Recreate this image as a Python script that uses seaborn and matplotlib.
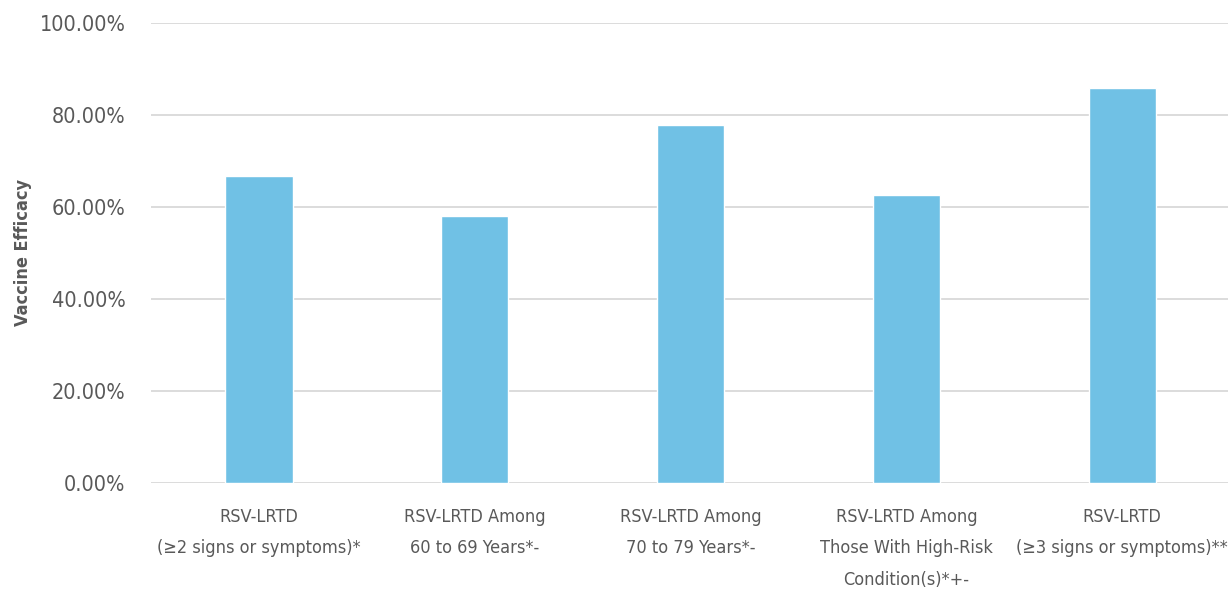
import matplotlib
matplotlib.use("Agg")
import matplotlib.pyplot as plt
from matplotlib import font_manager
import seaborn as sns
import pandas as pd
from matplotlib.ticker import FuncFormatter

categories = [
    "RSV-LRTD\n(≥2 signs or symptoms)*",
    "RSV-LRTD Among\n60 to 69 Years*-",
    "RSV-LRTD Among\n70 to 79 Years*-",
    "RSV-LRTD Among\nThose With High-Risk\nCondition(s)*+-",
    "RSV-LRTD\n(≥3 signs or symptoms)**",
]
efficacy = [66.7, 57.9, 77.8, 62.5, 85.7]
y_ticks = [0, 20, 40, 60, 80, 100]

STRETCH_RANK = {"ultra-condensed": 100, "extra-condensed": 200,
                "condensed": 300, "semi-condensed": 400}


def pick_narrow_font():
    """Return (family, stretch) of the narrowest installed upright face."""
    best = None
    for f in font_manager.fontManager.ttflist:
        st = f.stretch
        if isinstance(st, str):
            rank = STRETCH_RANK.get(st, 500)
        else:
            rank = int(st)
        if any(k in f.name for k in ("Narrow", "Condensed", "Compressed")):
            rank = min(rank, 300)
        if rank >= 500 or f.style != "normal":
            continue
        w = f.weight if isinstance(f.weight, int) else 400
        score = rank + abs(w - 450) / 10
        if best is None or score < best[0]:
            best = (score, f.name, st)
    if best:
        return best[1], best[2]
    return "DejaVu Sans", "normal"


narrow_family, narrow_stretch = pick_narrow_font()

sns.set_theme(style="white")
plt.rcParams["font.family"] = [narrow_family, "DejaVu Sans"]
plt.rcParams["font.stretch"] = narrow_stretch

df = pd.DataFrame({"category": categories, "efficacy": efficacy})

fig = plt.figure(figsize=(12.28, 5.94), dpi=100)
ax = fig.add_axes([0.123, 0.187, 0.8787, 0.775])

sns.barplot(data=df, x="category", y="efficacy", color="#70c1e5",
            width=0.312, saturation=1, ax=ax, zorder=3)

ax.set_ylim(0, 100)
ax.set_yticks(y_ticks)
ax.yaxis.set_major_formatter(FuncFormatter(lambda v, _: f"{v:.2f}%"))
ax.grid(axis="y", color="#d9d9d9", linewidth=1.3, zorder=0)
ax.grid(axis="x", visible=False)
for s in ax.spines.values():
    s.set_visible(False)

text_color = "#595959"
ax.tick_params(axis="y", labelsize=15.5, colors=text_color, length=0, pad=18.5)
ax.tick_params(axis="x", labelsize=13, colors=text_color, length=0, pad=18)
for lbl in ax.get_xticklabels():
    lbl.set_linespacing(1.95)

ax.set_xlabel("")
ax.set_ylabel("Vaccine Efficacy", fontsize=13, color=text_color,
              fontweight="bold")
ax.yaxis.set_label_coords(-0.110, 0.5)

fig.savefig("out.png", dpi=100, facecolor="white")
